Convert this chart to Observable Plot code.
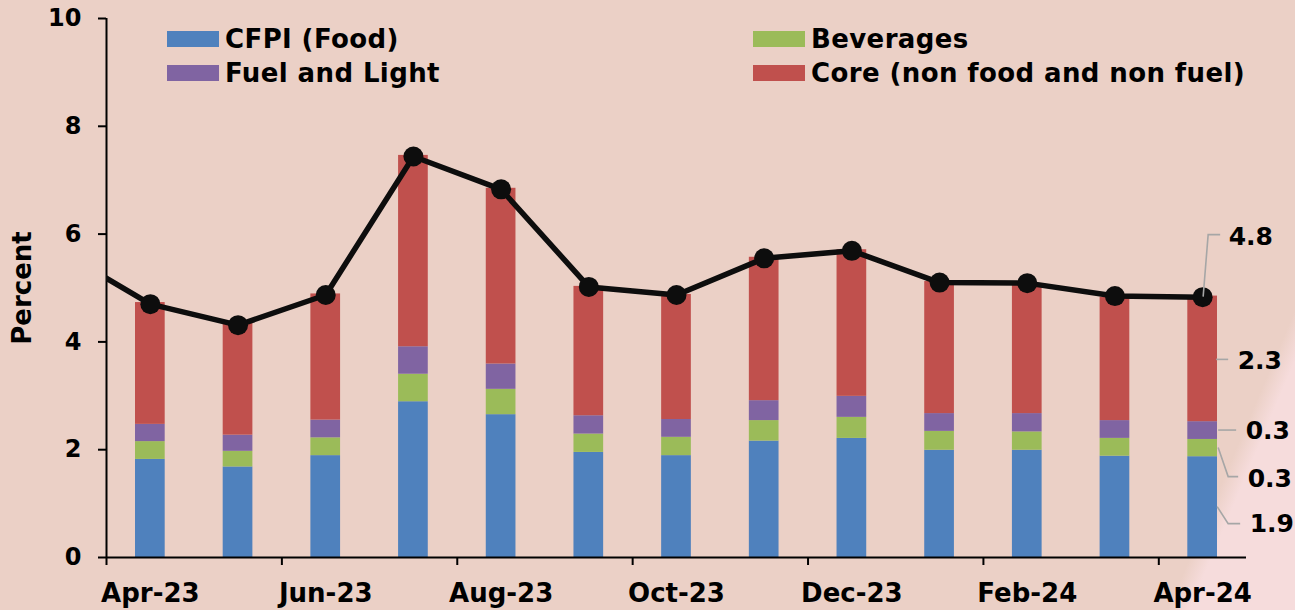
<!DOCTYPE html>
<html>
<head>
<meta charset="utf-8">
<script src="https://cdn.jsdelivr.net/npm/d3@7"></script>
<script src="https://cdn.jsdelivr.net/npm/@observablehq/plot@0.6"></script>
<style>
html, body { margin: 0; padding: 0; }
body {
  width: 1295px; height: 610px; overflow: hidden;
  background: linear-gradient(113deg, #EBD0C6 91.8%, #F6DCDC 93.2%);
  font-family: "DejaVu Sans", Verdana, sans-serif; font-weight: bold;
}
#wrap { position: relative; width: 1295px; height: 610px; }
#wrap svg { position: absolute; left: 0; top: 0; }
.leg { position: absolute; display: flex; align-items: center; font-size: 26px; color: #000; height: 30px; letter-spacing: 0.4px; white-space: nowrap; }
.sw { width: 52px; height: 16px; margin-right: 6px; flex: none; }
</style>
</head>
<body>
<div id="wrap"></div>
<script>
// ---------- data ----------
const months = ["Apr-23","May-23","Jun-23","Jul-23","Aug-23","Sep-23","Oct-23","Nov-23","Dec-23","Jan-24","Feb-24","Mar-24","Apr-24"];
const food = [1.82,1.68,1.89,2.89,2.65,1.95,1.89,2.16,2.21,1.99,1.99,1.88,1.87];
const beverages = [0.33,0.29,0.33,0.51,0.47,0.34,0.34,0.38,0.39,0.35,0.34,0.33,0.32];
const fuel = [0.32,0.30,0.33,0.51,0.47,0.34,0.33,0.37,0.39,0.33,0.34,0.33,0.33];
const core = [2.26,2.08,2.34,3.55,3.26,2.40,2.32,2.66,2.72,2.45,2.39,2.29,2.33];
const headlineMonths = ["Mar-23","Apr-23","May-23","Jun-23","Jul-23","Aug-23","Sep-23","Oct-23","Nov-23","Dec-23","Jan-24","Feb-24","Mar-24","Apr-24"];
const headline = [5.66,4.70,4.31,4.87,7.44,6.83,5.02,4.87,5.55,5.69,5.10,5.09,4.85,4.83];
const seriesNames = ["CFPI (Food)","Beverages","Fuel and Light","Core (non food and non fuel)"];
const seriesColors = ["#4F81BD","#9BBB59","#8064A2","#C0504D"];
const yTicks = [0,2,4,6,8,10];
const xLabelMonths = ["Apr-23","Jun-23","Aug-23","Oct-23","Dec-23","Feb-24","Apr-24"];

// ---------- derived tables ----------
const comps = [food, beverages, fuel, core];
const rows = [];
months.forEach((m, i) => {
  let base = 0;
  comps.forEach((arr, k) => {
    rows.push({i, month: m, series: seriesNames[k], y1: base, y2: base + arr[i], v: arr[i]});
    base += arr[i];
  });
});
const lineData = headline.map((v, j) => ({i: months.indexOf(headlineMonths[j]), month: headlineMonths[j], v}));
const dotData = lineData.filter(d => d.i >= 0);
const labelTicks = xLabelMonths.map(m => months.indexOf(m));
const boundaryTicks = labelTicks.map(i => i - 0.5);

// annotations for the last month
const last = months.length - 1;
const lastRows = rows.filter(r => r.i === last);
const fmt = d3.format(".1f");
const annAnchors = [
  {label: fmt(headline[headline.length - 1]), y: headline[headline.length - 1]},
  {label: fmt(lastRows[3].v), y: (lastRows[3].y1 + lastRows[3].y2) / 2},
  {label: fmt(lastRows[2].v), y: (lastRows[2].y1 + lastRows[2].y2) / 2},
  {label: fmt(lastRows[1].v), y: (lastRows[1].y1 + lastRows[1].y2) / 2},
  {label: fmt(lastRows[0].v), y: (lastRows[0].y1 + lastRows[0].y2) / 2}
];
// layout offsets (pixels) for leader lines and labels
const annLayout = [
  {tdx: 26, tdy: -60, pts: [[1,0],[6,-62],[18,-62]]},
  {tdx: 35, tdy: 2, pts: [[14,1],[26,1]]},
  {tdx: 43, tdy: 0, pts: [[16,0],[34,0]]},
  {tdx: 45, tdy: 31, pts: [[16,0],[26,29],[36,29]]},
  {tdx: 47, tdy: 17, pts: [[15,0],[26,17],[38,17]]}
];

const leaderMark = (index, scales) => {
  const g = d3.create("svg:g");
  const cx = scales.x(last);
  annAnchors.forEach((a, k) => {
    const cy = scales.y(a.y);
    const pts = annLayout[k].pts.map(([dx, dy]) => [cx + dx, cy + dy]);
    g.append("path")
      .attr("d", d3.line()(pts))
      .attr("fill", "none")
      .attr("stroke", "#A6A6A6")
      .attr("stroke-width", 1.6);
  });
  return g.node();
};

const fontFamily = "DejaVu Sans, Verdana, sans-serif";

const chart = Plot.plot({
  width: 1295,
  height: 610,
  marginLeft: 106,
  marginRight: 49,
  marginTop: 18,
  marginBottom: 53,
  style: {background: "transparent", color: "black", fontFamily, fontWeight: "bold", overflow: "visible"},
  x: {type: "linear", domain: [-0.5, 12.5]},
  y: {domain: [0, 10]},
  marks: [
    Plot.rect(rows, {
      x1: d => d.i - 0.5, x2: d => d.i + 0.5, y1: "y1", y2: "y2",
      fill: d => seriesColors[seriesNames.indexOf(d.series)],
      insetLeft: 29, insetRight: 29
    }),
    Plot.axisY({ticks: yTicks, tickSize: 8, tickPadding: 17, fontSize: 24, fontWeight: "bold", strokeWidth: 2, label: null}),
    Plot.ruleX([-0.5], {y1: 0, y2: 10, stroke: "black", strokeWidth: 2}),
    Plot.axisX({ticks: boundaryTicks, tickSize: 8, tickFormat: () => "", strokeWidth: 2, label: null}),
    Plot.axisX({ticks: labelTicks, tickSize: 0, tickPadding: 26, tickFormat: i => months[i], fontSize: 26, fontWeight: "bold", label: null}),
    Plot.ruleY([0], {x1: -0.5, x2: 12.5, stroke: "black", strokeWidth: 2}),
    Plot.line(lineData, {x: "i", y: "v", stroke: "#0D0D0D", strokeWidth: 5.5, clip: true}),
    Plot.dot(dotData, {x: "i", y: "v", r: 10, fill: "#0D0D0D", stroke: "none"}),
    leaderMark,
    ...annAnchors.map((a, k) => Plot.text([a], {
      x: () => last, y: "y", text: "label", textAnchor: "start",
      dx: annLayout[k].tdx, dy: annLayout[k].tdy, fontSize: 25, fontWeight: "bold", fill: "black"
    })),
    Plot.text(["Percent"], {text: d => d, frameAnchor: "left", textAnchor: "middle", dx: -84, rotate: -90, fontSize: 26, fontWeight: "bold", fill: "black"})
  ]
});

const wrap = document.getElementById("wrap");
wrap.appendChild(chart);

// legend (HTML overlay)
const legendPos = [
  {left: 167, top: 24}, {left: 753, top: 24},
  {left: 167, top: 58}, {left: 753, top: 58}
];
const legendOrder = [0, 1, 2, 3];
legendOrder.forEach((k, j) => {
  const div = document.createElement("div");
  div.className = "leg";
  div.style.left = legendPos[j].left + "px";
  div.style.top = legendPos[j].top + "px";
  const sw = document.createElement("span");
  sw.className = "sw";
  sw.style.background = seriesColors[k];
  const tx = document.createElement("span");
  tx.textContent = seriesNames[k];
  div.appendChild(sw);
  div.appendChild(tx);
  wrap.appendChild(div);
});
</script>
</body>
</html>
